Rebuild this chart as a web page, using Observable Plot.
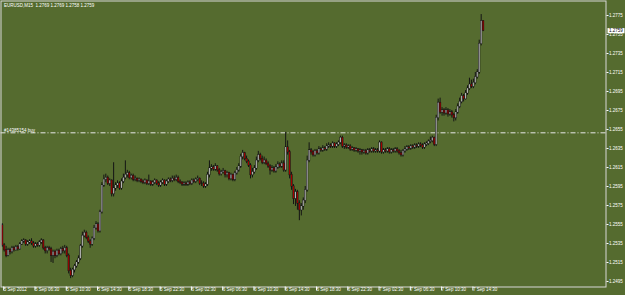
<!DOCTYPE html>
<html><head><meta charset="utf-8">
<script src="https://cdn.jsdelivr.net/npm/d3@7"></script>
<script src="https://cdn.jsdelivr.net/npm/@observablehq/plot@0.6"></script>
<style>html,body{margin:0;padding:0;background:#556B2F;overflow:hidden}</style>
</head><body><div id="chart"></div>
<script>
const symbolName = "EURUSD,M15";
const firstOpen = 1.2554;
const close = [
1.2533,1.2528,1.2522,1.2528,1.2526,1.2530,1.2528,1.2531,1.2529,1.2534,
1.2537,1.2538,1.2534,1.2536,1.2537,1.2535,1.2532,1.2534,1.2533,1.2536,
1.2538,1.2530,1.2527,1.2530,1.2529,1.2522,1.2526,1.2522,1.2527,1.2524,
1.2529,1.2527,1.2530,1.2522,1.2506,1.2501,1.2507,1.2511,1.2515,1.2519,
1.2532,1.2543,1.2546,1.2541,1.2537,1.2534,1.2540,1.2551,1.2555,1.2548,
1.2568,1.2596,1.2602,1.2604,1.2598,1.2601,1.2587,1.2593,1.2596,1.2598,
1.2593,1.2600,1.2604,1.2607,1.2609,1.2604,1.2606,1.2602,1.2603,1.2601,
1.2602,1.2600,1.2599,1.2601,1.2598,1.2600,1.2597,1.2599,1.2601,1.2598,
1.2596,1.2599,1.2601,1.2597,1.2600,1.2602,1.2601,1.2603,1.2602,1.2604,
1.2600,1.2599,1.2597,1.2598,1.2597,1.2599,1.2598,1.2601,1.2600,1.2602,
1.2603,1.2598,1.2598,1.2595,1.2597,1.2607,1.2614,1.2615,1.2613,1.2616,
1.2612,1.2608,1.2610,1.2611,1.2607,1.2609,1.2603,1.2607,1.2602,1.2609,
1.2612,1.2616,1.2626,1.2630,1.2624,1.2621,1.2617,1.2607,1.2610,1.2614,
1.2622,1.2628,1.2624,1.2620,1.2622,1.2619,1.2616,1.2612,1.2614,1.2611,
1.2615,1.2618,1.2616,1.2619,1.2612,1.2636,1.2631,1.2607,1.2595,1.2582,
1.2589,1.2577,1.2570,1.2574,1.2580,1.2591,1.2622,1.2633,1.2631,1.2628,
1.2632,1.2630,1.2634,1.2633,1.2635,1.2634,1.2637,1.2638,1.2637,1.2640,
1.2637,1.2639,1.2641,1.2646,1.2637,1.2638,1.2636,1.2637,1.2634,1.2635,
1.2633,1.2634,1.2632,1.2633,1.2631,1.2632,1.2630,1.2633,1.2632,1.2634,
1.2632,1.2633,1.2632,1.2641,1.2631,1.2633,1.2632,1.2634,1.2631,1.2633,
1.2632,1.2634,1.2632,1.2630,1.2628,1.2632,1.2634,1.2636,1.2635,1.2637,
1.2636,1.2638,1.2637,1.2639,1.2638,1.2636,1.2639,1.2640,1.2642,1.2643,
1.2646,1.2639,1.2667,1.2683,1.2673,1.2675,1.2672,1.2675,1.2671,1.2673,
1.2670,1.2667,1.2673,1.2679,1.2684,1.2690,1.2687,1.2693,1.2698,1.2702,
1.2700,1.2704,1.2710,1.2715,1.2745,1.2769,1.2759];
const high = [
1.2556,1.2535,1.2532,1.2530,1.2530,1.2532,1.2532,1.2533,1.2533,1.2536,
1.2539,1.2540,1.2539,1.2538,1.2539,1.2540,1.2537,1.2536,1.2536,1.2538,
1.2540,1.2539,1.2532,1.2532,1.2532,1.2531,1.2528,1.2528,1.2529,1.2529,
1.2531,1.2532,1.2533,1.2532,1.2524,1.2509,1.2509,1.2513,1.2517,1.2522,
1.2534,1.2547,1.2549,1.2548,1.2543,1.2539,1.2542,1.2554,1.2558,1.2557,
1.2570,1.2599,1.2607,1.2608,1.2606,1.2603,1.2602,1.2620,1.2599,1.2601,
1.2600,1.2603,1.2608,1.2622,1.2612,1.2611,1.2608,1.2608,1.2606,1.2604,
1.2604,1.2603,1.2602,1.2603,1.2602,1.2607,1.2601,1.2601,1.2603,1.2602,
1.2600,1.2601,1.2603,1.2602,1.2602,1.2604,1.2604,1.2606,1.2606,1.2607,
1.2606,1.2602,1.2600,1.2600,1.2600,1.2601,1.2601,1.2603,1.2603,1.2604,
1.2606,1.2604,1.2601,1.2600,1.2599,1.2610,1.2622,1.2618,1.2617,1.2619,
1.2617,1.2614,1.2612,1.2614,1.2612,1.2611,1.2610,1.2609,1.2608,1.2611,
1.2615,1.2619,1.2629,1.2633,1.2631,1.2627,1.2623,1.2619,1.2614,1.2617,
1.2626,1.2632,1.2630,1.2627,1.2626,1.2624,1.2621,1.2618,1.2617,1.2616,
1.2618,1.2621,1.2620,1.2622,1.2622,1.2652,1.2643,1.2633,1.2610,1.2597,
1.2592,1.2591,1.2580,1.2577,1.2583,1.2595,1.2627,1.2641,1.2635,1.2633,
1.2634,1.2634,1.2637,1.2636,1.2638,1.2637,1.2640,1.2641,1.2640,1.2642,
1.2641,1.2641,1.2643,1.2648,1.2648,1.2640,1.2640,1.2639,1.2639,1.2637,
1.2636,1.2636,1.2635,1.2635,1.2634,1.2634,1.2634,1.2635,1.2635,1.2636,
1.2636,1.2635,1.2635,1.2643,1.2642,1.2635,1.2635,1.2636,1.2636,1.2635,
1.2635,1.2636,1.2636,1.2634,1.2633,1.2634,1.2637,1.2638,1.2638,1.2639,
1.2639,1.2640,1.2640,1.2641,1.2641,1.2640,1.2641,1.2642,1.2644,1.2647,
1.2648,1.2647,1.2670,1.2687,1.2688,1.2678,1.2677,1.2678,1.2677,1.2676,
1.2675,1.2672,1.2676,1.2682,1.2688,1.2693,1.2692,1.2696,1.2701,1.2709,
1.2707,1.2708,1.2715,1.2718,1.2749,1.2776,1.2769];
const low = [
1.2531,1.2526,1.2520,1.2521,1.2523,1.2524,1.2526,1.2527,1.2527,1.2528,
1.2533,1.2535,1.2532,1.2532,1.2534,1.2533,1.2530,1.2530,1.2531,1.2531,
1.2534,1.2528,1.2524,1.2524,1.2527,1.2515,1.2514,1.2519,1.2520,1.2522,
1.2522,1.2524,1.2524,1.2520,1.2503,1.2498,1.2499,1.2504,1.2509,1.2513,
1.2517,1.2530,1.2541,1.2539,1.2535,1.2530,1.2532,1.2538,1.2549,1.2546,
1.2546,1.2566,1.2594,1.2599,1.2596,1.2595,1.2584,1.2584,1.2590,1.2593,
1.2591,1.2591,1.2598,1.2602,1.2604,1.2602,1.2602,1.2600,1.2600,1.2599,
1.2599,1.2598,1.2597,1.2597,1.2596,1.2596,1.2595,1.2595,1.2597,1.2596,
1.2594,1.2594,1.2597,1.2595,1.2595,1.2598,1.2599,1.2599,1.2600,1.2600,
1.2598,1.2597,1.2595,1.2595,1.2595,1.2595,1.2596,1.2596,1.2598,1.2598,
1.2600,1.2596,1.2595,1.2593,1.2593,1.2595,1.2604,1.2611,1.2611,1.2611,
1.2610,1.2606,1.2606,1.2608,1.2604,1.2604,1.2601,1.2601,1.2600,1.2600,
1.2607,1.2610,1.2614,1.2623,1.2622,1.2619,1.2615,1.2603,1.2604,1.2608,
1.2612,1.2620,1.2622,1.2618,1.2618,1.2617,1.2614,1.2607,1.2610,1.2609,
1.2609,1.2613,1.2614,1.2614,1.2610,1.2610,1.2628,1.2603,1.2591,1.2576,
1.2574,1.2570,1.2559,1.2564,1.2570,1.2577,1.2589,1.2620,1.2628,1.2626,
1.2626,1.2628,1.2628,1.2631,1.2631,1.2632,1.2632,1.2635,1.2635,1.2635,
1.2635,1.2635,1.2637,1.2639,1.2635,1.2634,1.2634,1.2634,1.2632,1.2632,
1.2631,1.2631,1.2630,1.2628,1.2628,1.2629,1.2628,1.2628,1.2630,1.2630,
1.2630,1.2630,1.2630,1.2630,1.2629,1.2629,1.2630,1.2630,1.2629,1.2629,
1.2630,1.2630,1.2630,1.2628,1.2626,1.2626,1.2630,1.2632,1.2633,1.2633,
1.2634,1.2634,1.2635,1.2635,1.2636,1.2634,1.2634,1.2637,1.2638,1.2640,
1.2641,1.2637,1.2637,1.2664,1.2671,1.2669,1.2669,1.2670,1.2668,1.2669,
1.2667,1.2663,1.2664,1.2671,1.2677,1.2682,1.2684,1.2686,1.2691,1.2696,
1.2698,1.2698,1.2702,1.2708,1.2713,1.2743,1.2758];
const buyPrice = 1.26515;
const buyLabel = "#14385154 buy";
const timeLabels = ["5 Sep 2012","5 Sep 06:30","5 Sep 10:30","5 Sep 14:30","5 Sep 18:30","5 Sep 22:30","6 Sep 02:30","6 Sep 06:30","6 Sep 10:30","6 Sep 14:30","6 Sep 18:30","6 Sep 22:30","7 Sep 02:30","7 Sep 06:30","7 Sep 10:30","7 Sep 14:30"];
const timeLabelBars = [0,16,32,48,64,80,96,112,128,144,160,176,192,208,224,240];
const priceTicks = [1.2495,1.2515,1.2535,1.2555,1.2575,1.2595,1.2615,1.2635,1.2655,1.2675,1.2695,1.2715,1.2735,1.2755,1.2775];

const bars = close.map((c, i) => {
  const open = i ? close[i - 1] : firstOpen;
  return {i, open, close: c, high: high[i], low: low[i], top: Math.max(open, c), bottom: Math.min(open, c), up: c >= open};
});
const last = bars[bars.length - 1];
const header = `${symbolName}  ${last.open.toFixed(4)} ${last.high.toFixed(4)} ${last.low.toFixed(4)} ${last.close.toFixed(4)}`;
const boxSymbol = {draw(ctx) { ctx.rect(-8.5, -2.6, 17, 5.2); }};
const FG = "#ffffff";
const FS = 4.5;

const chart = Plot.plot({
  width: 625, height: 295,
  marginLeft: 0.5, marginRight: 19.5, marginTop: 0.5, marginBottom: 8.5,
  style: {background: "#556B2F", color: FG, fontFamily: "Liberation Sans, Arial, sans-serif", fontSize: FS + "px"},
  x: {type: "linear", domain: [-0.614, 308.85], axis: null},
  y: {type: "linear", domain: [1.248921, 1.279026], axis: null},
  marks: [
    Plot.ruleY([buyPrice], {y: d => d, stroke: "#e8e8e8", strokeWidth: 1, strokeDasharray: "5,2,1,2"}),
    Plot.text([buyLabel], {y: () => buyPrice, text: d => d, frameAnchor: "left", dx: 3, dy: -1, lineAnchor: "bottom", textAnchor: "start", fill: FG, fontSize: FS}),
    Plot.ruleX(bars, {x: "i", y1: "low", y2: "high", stroke: "#141414", strokeWidth: 1}),
    Plot.ruleX(bars, {x: "i", y1: "top", y2: "bottom", stroke: "#141414", strokeWidth: 2, insetTop: -0.5, insetBottom: -0.5}),
    Plot.ruleX(bars, {x: "i", y1: "top", y2: "bottom", stroke: d => d.up ? "#b4b4b4" : "#a00000", strokeWidth: 1.1}),
    Plot.frame({stroke: "#d8d8d8"}),
    Plot.axisY(priceTicks, {anchor: "right", label: null, tickSize: 2, tickPadding: 1, tickFormat: d => d.toFixed(4), fill: FG, stroke: FG, fontSize: FS}),
    Plot.axisX(timeLabelBars, {anchor: "bottom", label: null, tickSize: 4, tickPadding: -3, tickFormat: d => timeLabels[timeLabelBars.indexOf(d)], textAnchor: "start", dx: 1.5, lineAnchor: "top", fill: FG, stroke: FG, fontSize: FS}),
    Plot.text([header], {text: d => d, frameAnchor: "top-left", dx: 3, dy: 3, lineAnchor: "top", textAnchor: "start", fill: FG, fontSize: FS}),
    Plot.dot([last], {y: "close", frameAnchor: "right", dx: 10, symbol: boxSymbol, fill: "white", stroke: "none"}),
    Plot.text([last], {y: "close", text: d => d.close.toFixed(4), frameAnchor: "right", dx: 3, textAnchor: "start", fill: "black", fontSize: FS})
  ]
});
document.getElementById("chart").appendChild(chart);
</script></body></html>
